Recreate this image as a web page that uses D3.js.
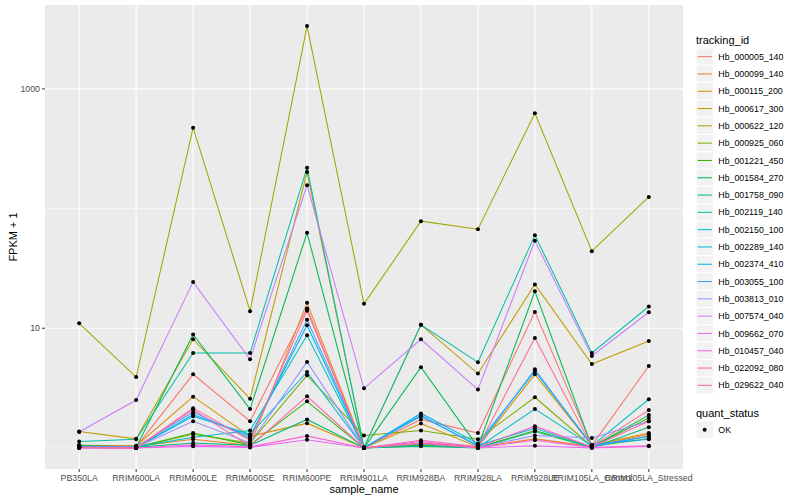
<!DOCTYPE html>
<html><head><meta charset="utf-8">
<script src="https://cdn.jsdelivr.net/npm/d3@7"></script>
<style>body{margin:0;background:#fff;} text{font-family:"Liberation Sans",Arial,Helvetica,sans-serif;}</style>
</head><body><svg id="c" width="800" height="500"></svg>
<script>
const samples = ["PB350LA","RRIM600LA","RRIM600LE","RRIM600SE","RRIM600PE","RRIM901LA","RRIM928BA","RRIM928LA","RRIM928LE","RRIM105LA_Control","RRIM105LA_Stressed"];
const trackingIds = ["Hb_000005_140","Hb_000099_140","Hb_000115_200","Hb_000617_300","Hb_000622_120","Hb_000925_060","Hb_001221_450","Hb_001584_270","Hb_001758_090","Hb_002119_140","Hb_002150_100","Hb_002289_140","Hb_002374_410","Hb_003055_100","Hb_003813_010","Hb_007574_040","Hb_009662_070","Hb_010457_040","Hb_022092_080","Hb_029622_040"];
// FPKM + 1 values, one row per tracking_id, in sample order
const fpkmPlus1 = [
  [1.02,1.02,4.12,1.67,14.6,1.00,1.73,1.33,13.7,1.05,4.84],
  [1.03,1.03,1.18,1.05,16.3,1.00,1.05,1.01,1.19,1.03,1.30],
  [1.05,1.04,2.68,1.25,1.61,1.00,1.60,1.02,4.12,1.05,1.33],
  [1.37,1.19,8.09,2.58,202,1.01,10.7,4.18,23.2,5.02,7.83],
  [11.0,3.91,474,13.9,3350,16.0,78.5,67.3,626,44.1,125],
  [1.03,1.02,1.30,1.10,4.04,1.27,1.40,1.18,2.65,1.03,1.20],
  [1.02,1.01,1.33,1.06,2.45,1.00,1.06,1.01,1.40,1.02,1.78],
  [1.05,1.01,8.86,2.11,62.7,1.00,4.72,1.02,20.4,1.02,1.88],
  [1.02,1.01,1.10,1.05,1.73,1.00,1.03,1.00,1.37,1.01,1.49],
  [1.13,1.18,6.21,6.21,219,1.01,10.7,5.19,60.0,6.21,15.2],
  [1.02,1.02,1.23,1.40,8.74,1.00,1.08,1.01,2.11,1.04,2.55],
  [1.01,1.01,1.84,1.30,4.31,1.00,1.84,1.05,1.46,1.02,1.25],
  [1.01,1.00,1.90,1.25,10.6,1.00,1.94,1.09,4.37,1.06,1.18],
  [1.03,1.02,1.99,1.20,11.8,1.01,1.87,1.03,4.54,1.04,1.25],
  [1.01,1.01,1.67,1.10,5.22,1.00,1.10,1.01,1.27,1.21,1.67],
  [1.36,2.51,24.4,5.50,157,3.15,8.09,3.07,53.8,5.86,13.6],
  [1.00,1.00,1.03,1.01,1.17,1.00,1.09,1.00,1.04,1.00,1.03],
  [1.00,1.00,1.06,1.02,1.26,1.00,1.13,1.00,1.16,1.01,1.04],
  [1.01,1.00,2.09,1.03,2.70,1.00,1.16,1.02,1.52,1.02,1.67],
  [1.01,1.00,2.15,1.16,14.0,1.00,1.10,1.02,8.29,1.03,2.07]
];
const yMajorTicks = [10, 1000];
const yMinorTicks = [1, 100];
const quantStatus = ["OK"];
const palette = ["#F8766D","#EA8331","#D89000","#C09B00","#A3A500","#7CAE00","#39B600","#00BB4E","#00BF7D","#00C1A3","#00BFC4","#00BAE0","#00B0F6","#35A2FF","#9590FF","#C77CFF","#E76BF3","#FA62DB","#FF62BC","#FF6C91"];

const svg = d3.select("#c");
const P = {l:45, r:683, t:5, b:469};

const x = d3.scalePoint().domain(samples).range([P.l, P.r]).padding(0.6);
const all = fpkmPlus1.flat();
const lmin = Math.log10(d3.min(all)), lmax = Math.log10(d3.max(all));
const ex = (lmax - lmin) * 0.05;
const y = d3.scaleLog().domain([Math.pow(10, lmin - ex), Math.pow(10, lmax + ex)]).range([P.b, P.t]);
const color = d3.scaleOrdinal().domain(trackingIds).range(palette);

svg.append("rect").attr("x",P.l).attr("y",P.t).attr("width",P.r-P.l).attr("height",P.b-P.t).attr("fill","#EBEBEB");
const g = svg.append("g");
g.selectAll(".ymin").data(yMinorTicks).join("line")
  .attr("x1",P.l).attr("x2",P.r).attr("y1",d=>y(d)).attr("y2",d=>y(d))
  .attr("stroke","#fff").attr("stroke-width",0.55);
g.selectAll(".ymaj").data(yMajorTicks).join("line")
  .attr("x1",P.l).attr("x2",P.r).attr("y1",d=>y(d)).attr("y2",d=>y(d))
  .attr("stroke","#fff").attr("stroke-width",1.1);
g.selectAll(".xmaj").data(samples).join("line")
  .attr("x1",d=>x(d)).attr("x2",d=>x(d)).attr("y1",P.t).attr("y2",P.b)
  .attr("stroke","#fff").attr("stroke-width",1.1);

const line = d3.line().x((d,i)=>x(samples[i])).y(d=>y(d));
svg.append("g").selectAll("path").data(fpkmPlus1).join("path")
  .attr("d", d=>line(d)).attr("fill","none")
  .attr("stroke",(d,i)=>color(trackingIds[i])).attr("stroke-width",1.05);

const pts = [];
fpkmPlus1.forEach((row,i)=>row.forEach((v,j)=>pts.push({s:samples[j], v})));
svg.append("g").selectAll("circle").data(pts).join("circle")
  .attr("cx",d=>x(d.s)).attr("cy",d=>y(d.v)).attr("r",2).attr("fill","#000");

// axes
const ax = svg.append("g");
ax.selectAll(".yt").data(yMajorTicks).join("line")
  .attr("x1",P.l-3).attr("x2",P.l).attr("y1",d=>y(d)).attr("y2",d=>y(d))
  .attr("stroke","#333").attr("stroke-width",1);
ax.selectAll(".ytl").data(yMajorTicks).join("text")
  .attr("x",P.l-5).attr("y",d=>y(d)).attr("dy","0.35em").attr("text-anchor","end")
  .attr("font-size","8.8px").attr("fill","#4D4D4D").text(d=>d3.format("d")(d));
ax.selectAll(".xt").data(samples).join("line")
  .attr("x1",d=>x(d)).attr("x2",d=>x(d)).attr("y1",P.b).attr("y2",P.b+3)
  .attr("stroke","#333").attr("stroke-width",1);
ax.selectAll(".xtl").data(samples).join("text")
  .attr("x",d=>x(d)).attr("y",P.b+11.5).attr("text-anchor","middle")
  .attr("font-size","8.8px").attr("fill","#4D4D4D").text(d=>d);
svg.append("text").attr("x",(P.l+P.r)/2).attr("y",493).attr("text-anchor","middle")
  .attr("font-size","11px").attr("fill","#000").text("sample_name");
svg.append("text").attr("transform",`translate(17,${(P.t+P.b)/2}) rotate(-90)`).attr("text-anchor","middle")
  .attr("font-size","11px").attr("fill","#000").text("FPKM + 1");

// legend
const L = svg.append("g");
const kx = 696, ks = 17.3, k0 = 48;
L.append("text").attr("x",kx).attr("y",44).attr("font-size","11px").text("tracking_id");
const items = L.selectAll(".li").data(trackingIds).join("g").attr("transform",(d,i)=>`translate(${kx},${k0+i*ks})`);
items.append("rect").attr("width",ks).attr("height",ks).attr("fill","#F2F2F2").attr("stroke","#fff").attr("stroke-width",1);
items.append("line").attr("x1",1.5).attr("x2",ks-1.5).attr("y1",ks/2).attr("y2",ks/2).attr("stroke",d=>color(d)).attr("stroke-width",1.05);
items.append("text").attr("x",ks+5).attr("y",ks/2).attr("dy","0.35em").attr("font-size","8.8px").attr("fill","#000").text(d=>d);

L.append("text").attr("x",kx).attr("y",416.5).attr("font-size","11px").text("quant_status");
const q = L.selectAll(".qi").data(quantStatus).join("g").attr("transform",(d,i)=>`translate(${kx},${421+i*ks})`);
q.append("rect").attr("width",ks).attr("height",ks).attr("fill","#F2F2F2").attr("stroke","#fff");
q.append("circle").attr("cx",ks/2).attr("cy",ks/2).attr("r",2).attr("fill","#000");
q.append("text").attr("x",ks+5).attr("y",ks/2).attr("dy","0.35em").attr("font-size","8.8px").text(d=>d);
</script></body></html>
